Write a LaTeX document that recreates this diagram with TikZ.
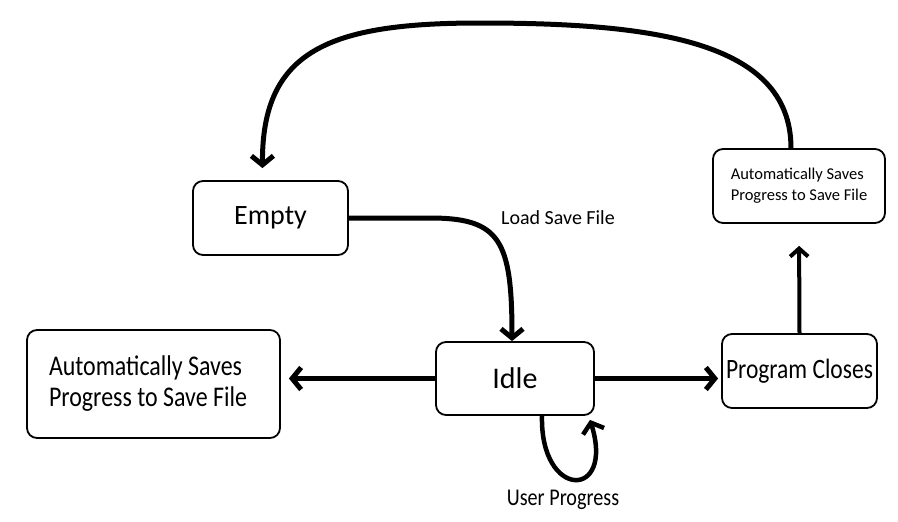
\documentclass[tikz,border=0pt]{standalone}
\usepackage{fontspec}
\setmainfont{Carlito}
\newfontfamily\narrowfont[FakeStretch=0.84]{Carlito}
\usetikzlibrary{arrows.meta}

\begin{document}
\begin{tikzpicture}[x=1pt,y=-1pt,
  box/.style={draw,line width=1.8pt,rounded corners=10pt,inner sep=0pt},
  link/.style={line width=5pt,-{Straight Barb[length=9pt,width=22pt]}}]
  \useasboundingbox[fill=white] (0,0) rectangle (898,522);
  % states
  \node[box,minimum width=155pt,minimum height=74pt,font=\fontsize{28}{30}\selectfont] (empty) at (270.5,218) {Empty};
  \node[box,minimum width=158pt,minimum height=73pt,font=\fontsize{30}{32}\selectfont] (idle) at (515,378.5) {Idle};
  \node[box,minimum width=253pt,minimum height=108pt,text width=209pt,align=flush left,font=\narrowfont\fontsize{28.5}{31}\selectfont] (save) at (153.5,384) {Automatically Saves\\Progress to Save File};
  \node[box,minimum width=155pt,minimum height=74pt,font=\narrowfont\fontsize{28}{30}\selectfont] (close) at (799.5,371) {Program Closes};
  \node[box,minimum width=172pt,minimum height=74pt,align=left,font=\fontsize{16.5}{21}\selectfont] (autosave) at (799,186) {Automatically Saves\\Progress to Save File};
  % labels
  \node[font=\fontsize{20}{22}\selectfont] (loadlbl) at (558,218) {Load Save File};
  \node[font=\narrowfont\fontsize{24}{26}\selectfont] (userlbl) at (563,500) {User Progress};
  % connectors
  \coordinate (bend) at (430,218);
  \draw[link] (empty.east) -- (bend) .. controls (500,218) and (512,240) .. ([xshift=-3pt]idle.north);
  \draw[link,shorten >=8pt] (idle.west) -- (idle.west -| save.east);
  \draw[link,shorten >=3pt] (idle.east) -- (idle.east -| close.west);
  \draw[line width=4pt,-{Straight Barb[length=8pt,width=18pt]},shorten >=22pt] (close.north) -- (autosave.south);
  \coordinate (top) at (480,23);
  \draw[link,shorten >=12pt] ([xshift=-8pt]autosave.north) .. controls (791,40) and (650,23) .. (top)
    .. controls (330,23) and (262,50) .. ([xshift=-8pt]empty.north);
  \draw[link,line width=4.5pt] ([xshift=27pt]idle.south) .. controls (540,500) and (615,500) .. ([xshift=75pt,yshift=-4pt]idle.south);
\end{tikzpicture}
\end{document}
